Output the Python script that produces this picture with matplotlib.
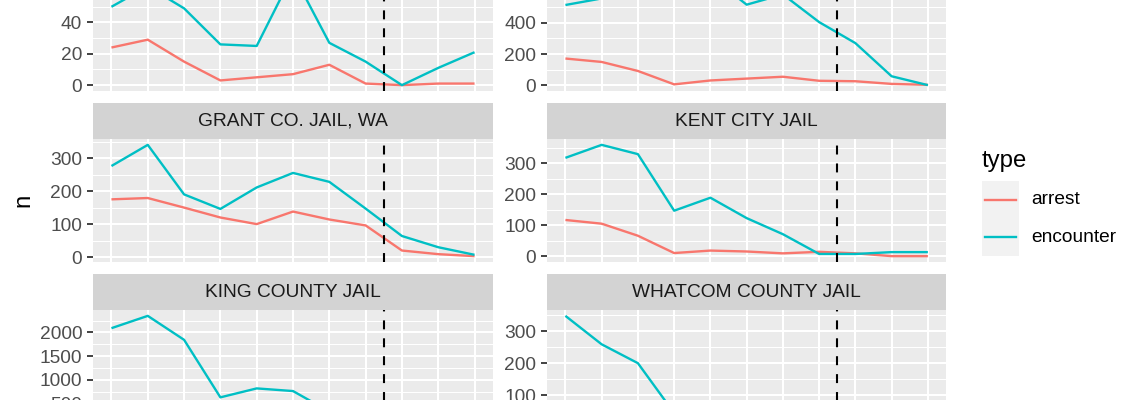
import matplotlib
matplotlib.use("Agg")
import matplotlib.pyplot as plt
from matplotlib.ticker import MultipleLocator
from matplotlib.patches import Rectangle
from matplotlib.lines import Line2D

plt.rcParams['font.family'] = ['Liberation Sans', 'DejaVu Sans']

# ---- data ----
periods = list(range(11))
facet_names = ["", "", "GRANT CO. JAIL, WA", "KENT CITY JAIL",
               "KING COUNTY JAIL", "WHATCOM COUNTY JAIL"]
arrest_a = [24, 29, 15, 3, 5, 7, 13, 1, 0, 1, 1]
encounter_a = [50, 63, 49, 26, 25, 71, 27, 15, 0, 11, 21]
arrest_b = [171, 149, 91, 5, 30, 42, 54, 28, 25, 8, 2]
encounter_b = [515, 557, 640, 715, 700, 517, 583, 405, 270, 57, 0]
arrest_grant = [175, 179, 150, 120, 100, 138, 114, 96, 20, 9, 3]
encounter_grant = [276, 340, 190, 146, 211, 255, 228, 147, 64, 30, 7]
arrest_kent = [117, 105, 66, 10, 18, 15, 9, 14, 9, 0, 0]
encounter_kent = [318, 360, 330, 147, 189, 123, 71, 7, 7, 13, 13]
arrest_king = [450, 480, 400, 210, 230, 220, 150, 90, 40, 20, 0]
encounter_king = [2090, 2350, 1844, 629, 818, 762, 330, 180, 120, 60, 40]
arrest_whatcom = [60, 50, 40, 15, 10, 8, 5, 3, 0, 0, 0]
encounter_whatcom = [348, 259, 200, 44, 30, 20, 15, 10, 5, 3, 2]
policy_break = 7.5

arrests = [arrest_a, arrest_b, arrest_grant, arrest_kent, arrest_king, arrest_whatcom]
encounters = [encounter_a, encounter_b, encounter_grant, encounter_kent,
              encounter_king, encounter_whatcom]
major_steps = [20, 200, 100, 100, 500, 100]

RED = '#F8766D'
CYAN = '#00BFC4'
SMALL = 13.8
BIG = 17.2

W, H = 1140, 400
fig = plt.figure(figsize=(W / 100, H / 100), dpi=100)
fig.patch.set_facecolor('white')


def rect(x0, x1, ytop, ybot):
    return [x0 / W, 1 - ybot / H, (x1 - x0) / W, (ybot - ytop) / H]


cols = [(93.3, 492.7), (547.3, 946.0)]
panel_tops = [-31.7, 139.3, 310.3]
ph = 122.4
sh = 36.0

for i in range(6):
    r, c = divmod(i, 2)
    x0, x1 = cols[c]
    top = panel_tops[r]
    ax = fig.add_axes(rect(x0, x1, top, top + ph))
    ax.set_facecolor('#EBEBEB')
    for s in ax.spines.values():
        s.set_visible(False)
    ar, en = arrests[i], encounters[i]
    lo = min(min(ar), min(en))
    hi = max(max(ar), max(en))
    rng = hi - lo
    ax.set_ylim(lo - 0.05 * rng, hi + 0.05 * rng)
    ax.set_xlim(-0.5, 10.5)
    ax.yaxis.set_major_locator(MultipleLocator(major_steps[i]))
    ax.yaxis.set_minor_locator(MultipleLocator(major_steps[i] / 2))
    ax.xaxis.set_major_locator(MultipleLocator(1))
    ax.grid(which='major', color='white', lw=1.5, zorder=0)
    ax.grid(which='minor', axis='y', color='white', lw=0.75, zorder=0)
    ax.set_axisbelow(True)
    ax.tick_params(axis='y', which='major', length=4, width=1.3, color='#333333',
                   labelsize=SMALL, labelcolor='#4D4D4D', pad=4)
    ax.tick_params(axis='y', which='minor', length=0)
    ax.tick_params(axis='x', which='both', length=0, labelbottom=False)
    ax.plot(periods, ar, color=RED, lw=1.7, zorder=3, solid_capstyle='butt')
    ax.plot(periods, en, color=CYAN, lw=1.7, zorder=3, solid_capstyle='butt')
    ax.axvline(policy_break, color='black', lw=1.5, ls=(0, (4.3, 4.3)), zorder=4)

    if facet_names[i]:
        sax = fig.add_axes(rect(x0, x1, top - sh, top))
        sax.set_facecolor('#D3D3D3')
        for s in sax.spines.values():
            s.set_visible(False)
        sax.set_xticks([])
        sax.set_yticks([])
        sax.text(0.5, 0.5, facet_names[i], ha='center', va='center',
                 fontsize=SMALL, color='#1A1A1A', transform=sax.transAxes)

# y axis title
fig.text(23 / W, 1 - 200 / H, 'n', rotation=90, ha='center', va='center',
         fontsize=BIG, color='black')

# legend
fig.text(982 / W, 1 - 166.5 / H, 'type', ha='left', va='baseline',
         fontsize=BIG, color='black')
fig.patches.append(Rectangle((981.7 / W, 1 - 255.7 / H), (1019.3 - 981.7) / W,
                             (255.7 - 180.7) / H, transform=fig.transFigure,
                             facecolor='#F2F2F2', edgecolor='none'))
for yk, col, lab in [(199.5, RED, 'arrest'), (237.0, CYAN, 'encounter')]:
    fig.lines.append(Line2D([985 / W, 1015.7 / W], [1 - yk / H, 1 - yk / H],
                            transform=fig.transFigure, color=col, lw=1.7))
    fig.text(1031 / W, 1 - yk / H, lab, ha='left', va='center',
             fontsize=SMALL, color='black')

fig.savefig('out.png', dpi=100)
